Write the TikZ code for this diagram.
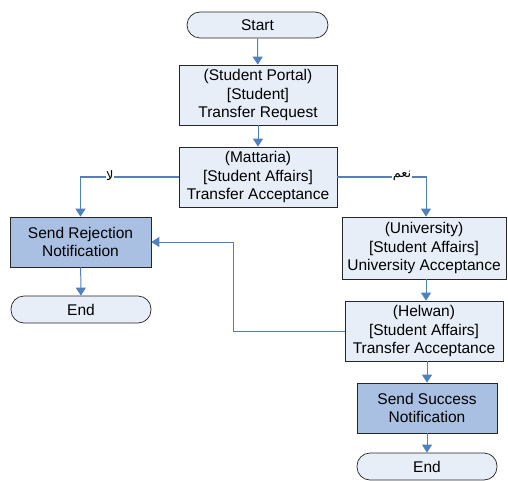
\documentclass[tikz,border=0pt]{standalone}
\usepackage{fontspec}
\setmainfont{Liberation Sans}
\newfontfamily\arabicfont[Script=Arabic]{DejaVu Sans}
\TeXXeTstate=1
\usetikzlibrary{arrows.meta}
\definecolor{lightfill}{HTML}{E8EEF8}
\definecolor{darkfill}{HTML}{A9C0E2}
\definecolor{linkblue}{HTML}{4F81BD}
\begin{document}
\begin{tikzpicture}[x=1pt,y=-1pt,
  font=\fontsize{15.5}{18.3}\selectfont,
  box/.style={draw=black!85, line width=0.7pt, fill=lightfill, align=center, inner sep=0pt},
  darkbox/.style={box, fill=darkfill},
  term/.style={box, rounded corners=13pt},
  arr/.style={draw=linkblue, line width=1pt, -{Triangle[width=10pt,length=8pt]}},
  lbl/.style={fill=white, inner sep=0.5pt, yshift=1pt, font=\arabicfont\fontsize{13}{15}\selectfont}]
\useasboundingbox (0,0) rectangle (508,481);
\node[term, minimum width=141pt, minimum height=26pt] (start) at (257.5,25) {Start};
\node[box, minimum width=158pt, minimum height=60pt] (portal) at (258,95) {(Student Portal)\\{}[Student]\\Transfer Request};
\node[box, minimum width=158pt, minimum height=60pt] (matt) at (258,177) {(Mattaria)\\{}[Student Affairs]\\Transfer Acceptance};
\node[darkbox, minimum width=141pt, minimum height=50pt] (reject) at (80.5,242) {Send Rejection\\Notification};
\node[term, minimum width=140pt, minimum height=27pt] (end1) at (81,309.5) {End};
\node[box, minimum width=164pt, minimum height=62pt] (univ) at (424,248) {(University)\\{}[Student Affairs]\\University Acceptance};
\node[box, minimum width=158pt, minimum height=60pt] (helwan) at (424,331) {(Helwan)\\{}[Student Affairs]\\Transfer Acceptance};
\node[darkbox, minimum width=140pt, minimum height=50pt] (success) at (427,408) {Send Success\\Notification};
\node[term, minimum width=140pt, minimum height=27pt] (end2) at (427,466.5) {End};
\draw[arr] (start) -- (portal);
\draw[arr] (portal) -- (matt);
\draw[arr] (matt.west) -| (reject.north) node[lbl, pos=0.35] {\beginR لا\endR};
\draw[arr] (matt.east) -| ([xshift=2pt]univ.north) node[lbl, pos=0.365] {\beginR نعم\endR};
\draw[arr] (reject) -- (end1);
\draw[arr] ([xshift=2pt]univ.south) -- ([xshift=2pt]helwan.north);
\draw[arr] ([xshift=3pt]helwan.south) -- (success.north);
\draw[arr] (success) -- (end2);
\coordinate (bend) at (233,331);
\draw[arr] (helwan.west) -- (bend) |- (reject.east);
\end{tikzpicture}
\end{document}
